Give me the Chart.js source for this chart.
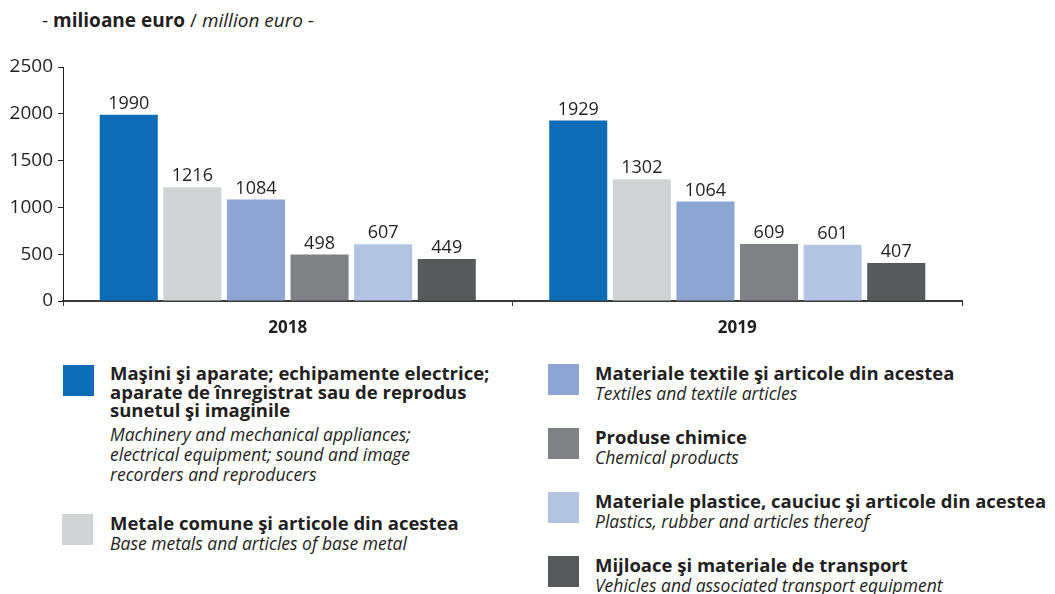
<!DOCTYPE html>
<html>
<head>
<meta charset="utf-8">
<script src="https://cdn.jsdelivr.net/npm/chart.js"></script>
<style>
  body { margin: 0; background: #fff; font-family: "Open Sans", sans-serif; color: #231F20; }
  #wrap { position: relative; width: 1055px; height: 594px; }
  #title { position: absolute; left: 42px; top: 7px; font-size: 19px; }
  #box { position: absolute; left: 0; top: 0; width: 1055px; height: 350px; }
  .item { position: absolute; }
  .sw { position: absolute; left: 0; top: 0; width: 31px; height: 31px; }
  .txt { position: absolute; left: 47px; top: 0; white-space: nowrap; }
  .txt b { display: block; font-weight: 700; font-size: 18.5px; line-height: 18.5px; }
  .txt i { display: block; font-size: 17.5px; line-height: 20px; }
  .txt i.gap { margin-top: 4px; }
</style>
</head>
<body>
<div id="wrap">
  <div id="title">- <b>milioane euro</b> / <i>million euro</i> -</div>
  <div id="box"><canvas id="myChart"></canvas></div>
  <div id="legend"></div>
</div>
<script>
const years = ['2018', '2019'];
const namesRo = [
  'Maşini şi aparate; echipamente electrice;<br>aparate de înregistrat sau de reprodus<br>sunetul şi imaginile',
  'Metale comune şi articole din acestea',
  'Materiale textile şi articole din acestea',
  'Produse chimice',
  'Materiale plastice, cauciuc şi articole din acestea',
  'Mijloace şi materiale de transport'
];
const namesEn = [
  'Machinery and mechanical appliances;<br>electrical equipment; sound and image<br>recorders and reproducers',
  'Base metals and articles of base metal',
  'Textiles and textile articles',
  'Chemical products',
  'Plastics, rubber and articles thereof',
  'Vehicles and associated transport equipment'
];
const machinery = [1990, 1929];
const metals = [1216, 1302];
const textiles = [1084, 1064];
const chemicals = [498, 609];
const plastics = [607, 601];
const transport = [449, 407];
const colors = ['#0E6BB6', '#D2D3D5', '#8CA5D3', '#808184', '#B3C4E3', '#58595B'];

const series = [machinery, metals, textiles, chemicals, plastics, transport];

// legend places: [left, top of swatch]
const legendPos = [[63, 365], [62, 514], [548, 364], [548, 428], [548, 492], [548, 556]];
const legend = document.getElementById('legend');
namesRo.forEach((n, i) => {
  const d = document.createElement('div');
  d.className = 'item';
  d.style.left = legendPos[i][0] + 'px';
  d.style.top = legendPos[i][1] + 'px';
  const gap = n.indexOf('<br>') >= 0 ? ' class="gap"' : '';
  const shift = i < 2 ? ' style="left:' + (110 - legendPos[i][0]) + 'px;top:' + (i == 0 ? -1 : 0) + 'px"' : '';
  d.innerHTML = '<div class="sw" style="background:' + colors[i] + '"></div>' +
    '<div class="txt"' + shift + '><b>' + n + '</b><i' + gap + '>' + namesEn[i] + '</i></div>';
  legend.appendChild(d);
});

// values above bars
const barLabels = {
  id: 'barLabels',
  afterDatasetsDraw(chart) {
    const c = chart.ctx;
    c.save();
    c.font = '18px "Open Sans", sans-serif';
    c.fillStyle = '#231F20';
    c.textAlign = 'center';
    c.textBaseline = 'bottom';
    chart.data.datasets.forEach((ds, i) => {
      chart.getDatasetMeta(i).data.forEach((bar, j) => {
        c.fillText(ds.data[j], bar.x, bar.y - 2);
      });
    });
    c.restore();
  }
};

const ctx = document.getElementById('myChart');
new Chart(ctx, {
  type: 'bar',
  data: {
    labels: years,
    datasets: series.map((s, i) => ({
      label: namesEn[i],
      data: s,
      backgroundColor: colors[i],
      categoryPercentage: 0.849,
      barPercentage: 0.913
    }))
  },
  options: {
    responsive: true,
    maintainAspectRatio: false,
    animation: false,
    layout: { padding: { left: 0, right: 93, top: 67, bottom: 0 } },
    plugins: { legend: { display: false }, tooltip: { enabled: false } },
    scales: {
      x: {
        afterFit: (s) => { s.height = 49; },
        grid: { display: true, offset: true, drawOnChartArea: false, tickLength: 5, color: '#3a3a3c' },
        border: { color: '#3a3a3c', width: 2 },
        ticks: { color: '#231F20', padding: 12, font: { family: 'Open Sans', size: 17, weight: 'bold' } }
      },
      y: {
        min: 0, max: 2500,
        afterFit: (s) => { s.width = 63; },
        grid: { display: true, drawOnChartArea: false, tickLength: 5, color: '#231F20' },
        border: { color: '#231F20', width: 1 },
        ticks: {
          stepSize: 500, color: '#231F20', padding: 5,
          font: { family: 'Open Sans', size: 19 },
          callback: (v) => String(v)
        }
      }
    }
  },
  plugins: [barLabels]
});
</script>
</body>
</html>
